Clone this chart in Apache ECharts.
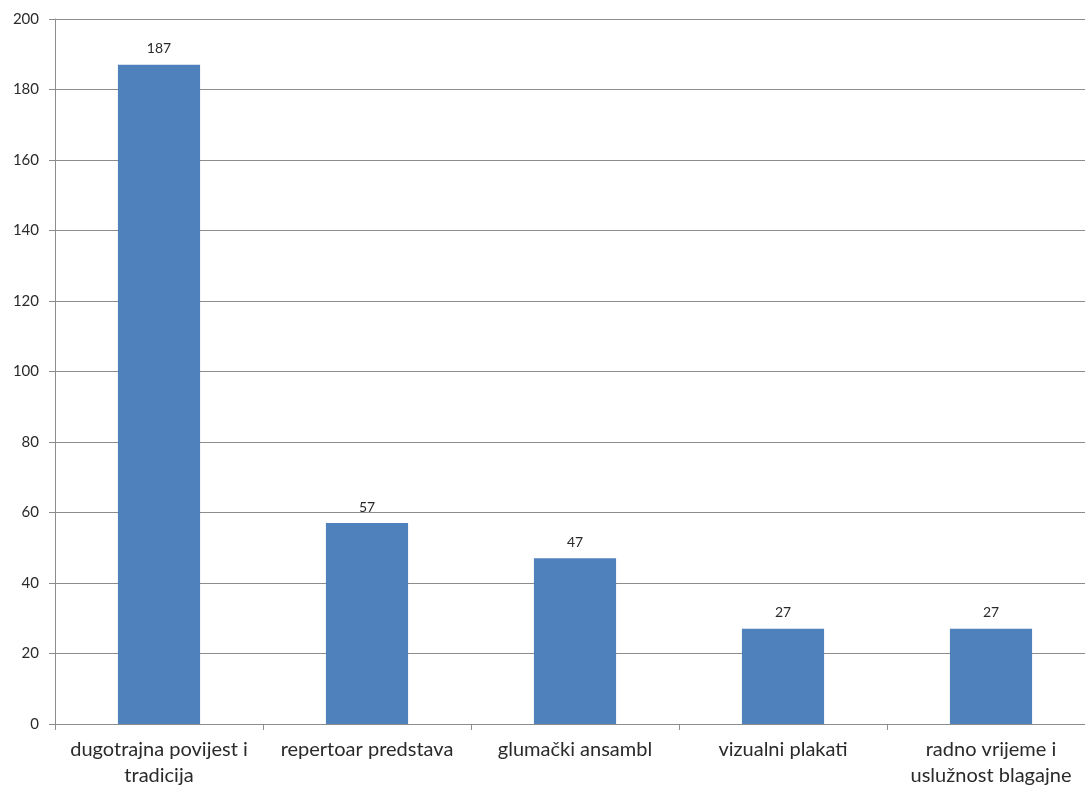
<!DOCTYPE html>
<html><head><meta charset="utf-8">
<script src="https://cdn.jsdelivr.net/npm/echarts@6/dist/echarts.min.js"></script>
<style>html,body{margin:0;padding:0;background:#fff;overflow:hidden;width:1085px;height:787px}#c{width:1100px;height:787px}</style>
</head><body><div id="c"></div>
<script>
const categories = ["dugotrajna povijest i\ntradicija", "repertoar predstava", "glumački ansambl", "vizualni plakati", "radno vrijeme i\nuslužnost blagajne"];
const values = [187, 57, 47, 27, 27];
const yTicks = {min: 0, max: 200, interval: 20};

const chart = echarts.init(document.getElementById('c'), null, {renderer: 'canvas'});
chart.setOption({
  animation: false,
  backgroundColor: '#ffffff',
  grid: {left: 55, width: 1040, top: 19, height: 705, containLabel: false, outerBoundsMode: 'none'},
  xAxis: {
    type: 'category',
    data: categories,
    axisLine: {lineStyle: {color: '#8c8c8c', width: 1}},
    axisTick: {show: true, length: 6, lineStyle: {color: '#8c8c8c'}},
    axisLabel: {color: '#2a2a2a', fontFamily: 'Lato', fontSize: 20, margin: 13, lineHeight: 26, interval: 0}
  },
  yAxis: {
    type: 'value',
    min: yTicks.min, max: yTicks.max, interval: yTicks.interval,
    axisLine: {show: true, lineStyle: {color: '#8c8c8c', width: 1}},
    axisTick: {show: true, length: 6, lineStyle: {color: '#8c8c8c'}},
    splitLine: {lineStyle: {color: '#8c8c8c', width: 1}},
    axisLabel: {color: '#2a2a2a', fontFamily: 'Lato', fontSize: 15, margin: 16}
  },
  series: [{
    type: 'bar',
    data: values,
    barWidth: '39.5%',
    itemStyle: {color: '#4F81BD'},
    label: {show: true, position: 'top', distance: 9, color: '#2a2a2a', fontFamily: 'Lato', fontSize: 14}
  }]
});
</script></body></html>
